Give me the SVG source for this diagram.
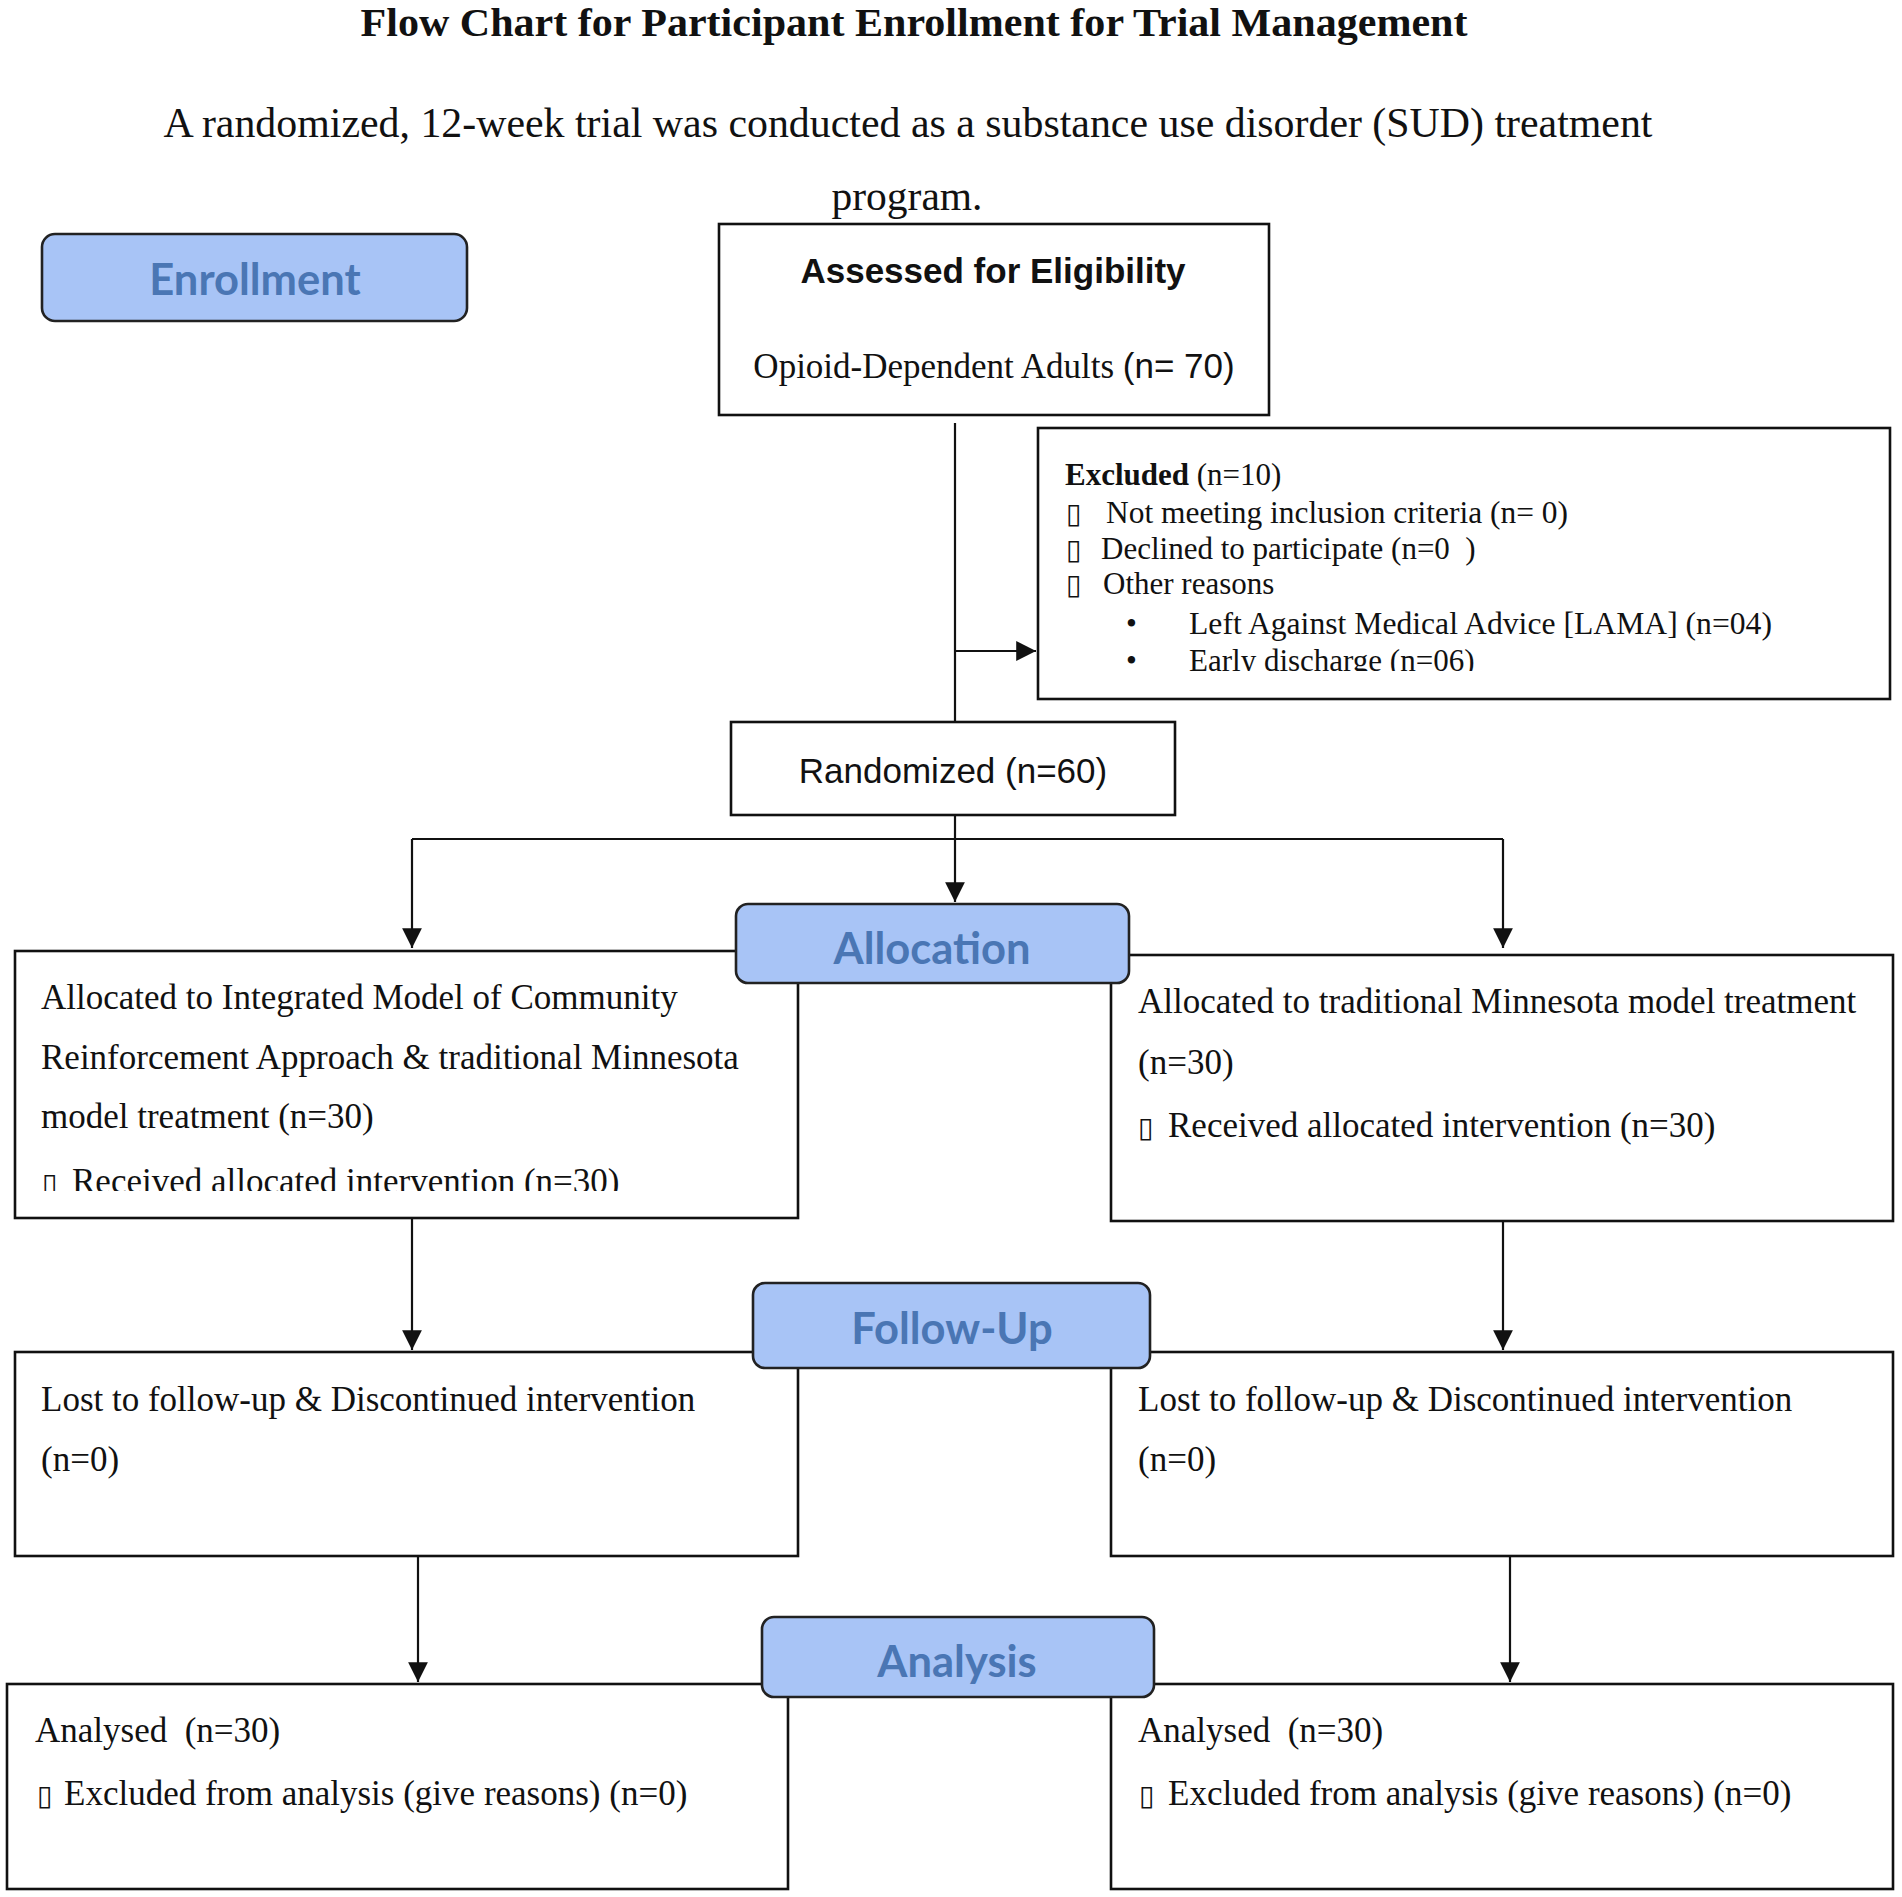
<svg xmlns="http://www.w3.org/2000/svg" width="1902" height="1897" viewBox="0 0 1902 1897">
<style>
.box{fill:#fff;stroke:#111;stroke-width:2.6}
.lbl{fill:#a8c4f6;stroke:#222;stroke-width:2.6}
.lt{font-family:Lato,"Open Sans",sans-serif;font-weight:700;font-size:43.5px;fill:#4a76b4;text-anchor:middle}
.ser{font-family:"Liberation Serif","Times New Roman",serif;font-size:35px;fill:#111}
.ex{font-family:"Liberation Serif","Times New Roman",serif;font-size:31px;fill:#111}
.tofu{font-family:"DejaVu Sans",sans-serif;font-size:28px;fill:#111}
.sans{font-family:"Liberation Sans",Arial,sans-serif;fill:#111}
.con{fill:none;stroke:#111;stroke-width:2.2}
</style>
<defs>
<marker id="ah2" viewBox="0 0 10 10" refX="10" refY="5" markerWidth="9" markerHeight="9" orient="auto">
<path d="M0,0 L10,5 L0,10 z" fill="#111"/>
</marker>
<clipPath id="clipEx"><rect x="1038" y="428" width="852" height="243"/></clipPath>
<clipPath id="clipAl"><rect x="15" y="951" width="783" height="240"/></clipPath>
</defs>
<rect width="1902" height="1897" fill="#fff"/>

<g id="title">
<text x="914" y="36" text-anchor="middle" font-family="'Liberation Serif','Times New Roman',serif" font-weight="700" font-size="39" fill="#111" textLength="1107" lengthAdjust="spacingAndGlyphs">Flow Chart for Participant Enrollment for Trial Management</text>
<text x="908" y="137" text-anchor="middle" font-family="'Liberation Serif','Times New Roman',serif" font-size="41.5" fill="#111" textLength="1489" lengthAdjust="spacingAndGlyphs">A randomized, 12-week trial was conducted as a substance use disorder (SUD) treatment</text>
<text x="907" y="210" text-anchor="middle" font-family="'Liberation Serif','Times New Roman',serif" font-size="41.5" fill="#111">program.</text>
</g>

<g id="connectors">
<path class="con" d="M955,423 V722"/>
<path class="con" d="M955,651 H1036" marker-end="url(#ah2)"/>
<path class="con" d="M955,815 V902" marker-end="url(#ah2)"/>
<path class="con" d="M412,839 H1503"/>
<path class="con" d="M412,839 V948" marker-end="url(#ah2)"/>
<path class="con" d="M1503,839 V948" marker-end="url(#ah2)"/>
<path class="con" d="M412,1218 V1350" marker-end="url(#ah2)"/>
<path class="con" d="M1503,1221 V1350" marker-end="url(#ah2)"/>
<path class="con" d="M418,1556 V1682" marker-end="url(#ah2)"/>
<path class="con" d="M1510,1556 V1682" marker-end="url(#ah2)"/>
</g>

<g id="enrollment">
<rect class="lbl" x="42" y="234" width="425" height="87" rx="13"/>
<text class="lt" x="255" y="295">Enrollment</text>
</g>

<g id="assessed">
<rect class="box" x="719" y="224" width="550" height="191"/>
<text class="sans" x="993" y="283" text-anchor="middle" font-size="35" font-weight="700">Assessed for Eligibility</text>
<text x="994" y="378" text-anchor="middle"><tspan class="ser" font-size="37">Opioid-Dependent Adults </tspan><tspan class="sans" font-size="35">(n= 70)</tspan></text>
</g>

<g id="excluded">
<rect class="box" x="1038" y="428" width="852" height="271"/>
<g clip-path="url(#clipEx)">
<text class="ex" x="1065" y="485"><tspan font-weight="700">Excluded</tspan> (n=10)</text>
<text class="tofu" x="1066" y="523">▯</text><text class="ex" x="1106" y="523" textLength="462" lengthAdjust="spacingAndGlyphs">Not meeting inclusion criteria (n= 0)</text>
<text class="tofu" x="1066" y="559">▯</text><text class="ex" x="1101" y="559" xml:space="preserve">Declined to participate (n=0  )</text>
<text class="tofu" x="1066" y="594">▯</text><text class="ex" x="1103" y="594">Other reasons</text>
<text class="ex" x="1126" y="634">•</text>
<text class="ex" x="1189" y="634" textLength="583" lengthAdjust="spacingAndGlyphs">Left Against Medical Advice [LAMA] (n=04)</text>
<text class="ex" x="1126" y="671">•</text>
<text class="ex" x="1189" y="671">Early discharge (n=06)</text>
</g>
</g>

<g id="randomized">
<rect class="box" x="731" y="722" width="444" height="93"/>
<text class="sans" x="953" y="783" text-anchor="middle" font-size="35">Randomized (n=60)</text>
</g>

<g id="alloc-left">
<rect class="box" x="15" y="951" width="783" height="267"/>
<g clip-path="url(#clipAl)">
<text class="ser" x="41" y="1009">Allocated to Integrated Model of Community</text>
<text class="ser" x="41" y="1069">Reinforcement Approach &amp; traditional Minnesota</text>
<text class="ser" x="41" y="1128">model treatment (n=30)</text>
<text class="tofu" x="42" y="1193">▯</text><text class="ser" x="72" y="1193">Received allocated intervention (n=30)</text>
</g>
</g>

<g id="alloc-right">
<rect class="box" x="1111" y="955" width="782" height="266"/>
<text class="ser" x="1138" y="1013">Allocated to traditional Minnesota model treatment</text>
<text class="ser" x="1138" y="1074">(n=30)</text>
<text class="tofu" x="1138" y="1137">▯</text><text class="ser" x="1168" y="1137">Received allocated intervention (n=30)</text>
</g>

<g id="allocation">
<rect class="lbl" x="736" y="904" width="393" height="79" rx="12"/>
<text class="lt" x="932" y="964">Allocation</text>
</g>

<g id="fu-left">
<rect class="box" x="15" y="1352" width="783" height="204"/>
<text class="ser" x="41" y="1411">Lost to follow-up &amp; Discontinued intervention</text>
<text class="ser" x="41" y="1471">(n=0)</text>
</g>

<g id="fu-right">
<rect class="box" x="1111" y="1352" width="782" height="204"/>
<text class="ser" x="1138" y="1411">Lost to follow-up &amp; Discontinued intervention</text>
<text class="ser" x="1138" y="1471">(n=0)</text>
</g>

<g id="followup">
<rect class="lbl" x="753" y="1283" width="397" height="85" rx="12"/>
<text class="lt" x="952" y="1344">Follow-Up</text>
</g>

<g id="an-left">
<rect class="box" x="7" y="1684" width="781" height="205"/>
<text class="ser" x="35" y="1742" xml:space="preserve">Analysed  (n=30)</text>
<text class="tofu" x="37" y="1805">▯</text><text class="ser" x="64" y="1805">Excluded from analysis (give reasons) (n=0)</text>
</g>

<g id="an-right">
<rect class="box" x="1111" y="1684" width="782" height="205"/>
<text class="ser" x="1138" y="1742" xml:space="preserve">Analysed  (n=30)</text>
<text class="tofu" x="1139" y="1805">▯</text><text class="ser" x="1168" y="1805">Excluded from analysis (give reasons) (n=0)</text>
</g>

<g id="analysis">
<rect class="lbl" x="762" y="1617" width="392" height="80" rx="12"/>
<text class="lt" x="957" y="1677">Analysis</text>
</g>
</svg>
